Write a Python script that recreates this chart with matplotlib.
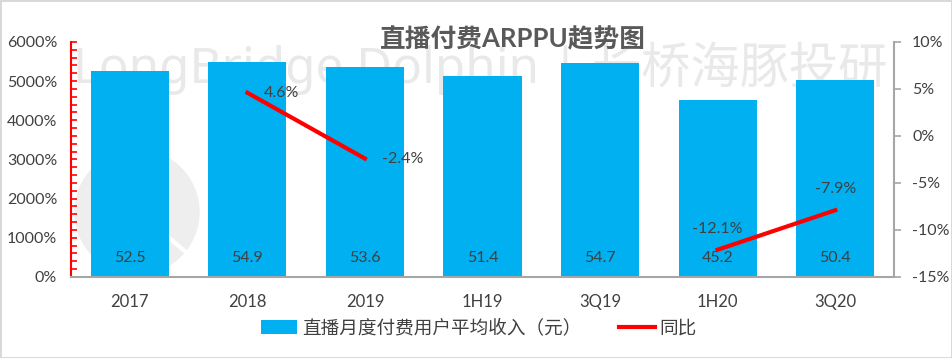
import matplotlib
matplotlib.use("Agg")
import matplotlib.pyplot as plt
import numpy as np
from matplotlib.ticker import MultipleLocator, FuncFormatter
from matplotlib.patches import Ellipse
from matplotlib.lines import Line2D

plt.rcParams['font.family'] = ['Lato', 'Noto Sans CJK SC', 'DejaVu Sans']

categories = ["2017", "2018", "2019", "1H19", "3Q19", "1H20", "3Q20"]
arppu = [52.5, 54.9, 53.6, 51.4, 54.7, 45.2, 50.4]
yoy = [np.nan, 4.6, -2.4, np.nan, np.nan, -12.1, -7.9]

title = "直播付费ARPPU趋势图"
bar_label = "直播月度付费用户平均收入（元）"
line_label = "同比"
watermark = "LongBridge Dolphin | 长桥海豚投研"

bar_color = "#00B0F0"
text_color = "#404040"

fig = plt.figure(figsize=(9.52, 3.58), dpi=100)
fig.patch.set_edgecolor("#D9D9D9")
fig.patch.set_linewidth(2)
ax = fig.add_axes([0.0746, 0.2263, 0.8645, 0.6564])
ax2 = ax.twinx()

x = np.arange(len(categories))
# watermark
fig.text(0.077, 0.81, watermark, fontsize=35.5, color="#E9E9E9",
         ha="left", va="center", zorder=0, family=['Noto Sans', 'Noto Sans CJK SC'])
circ = Ellipse((137 / 952, 1 - 212 / 358), 124 / 952, 124 / 358, transform=fig.transFigure,
               color="#EEEEEE", zorder=0)
fig.patches.append(circ)
fig.lines.append(Line2D([150 / 952, 205 / 952], [1 - 222 / 358, 1 - 268 / 358],
                        transform=fig.transFigure, color="white", linewidth=3, zorder=0.5))

ax.set_zorder(1)
ax.patch.set_visible(False)
ax2.set_zorder(2)

bars = ax.bar(x, [v * 100 for v in arppu], width=0.665, color=bar_color, zorder=2, label=bar_label)
for xi, v in zip(x, arppu):
    ax.text(xi, 480, f"{v:.1f}", ha="center", va="center", fontsize=11.5, color=text_color, zorder=3)

ax.set_xlim(-0.5, len(categories) - 0.5)
ax.set_ylim(0, 6000)
ax.yaxis.set_major_locator(MultipleLocator(1000))
ax.yaxis.set_minor_locator(MultipleLocator(200))
ax.yaxis.set_major_formatter(FuncFormatter(lambda v, p: f"{v:.0f}%"))
ax.set_xticks(x)
ax.set_xticklabels(categories)
ax.tick_params(axis="x", length=0, pad=12, labelsize=12, labelcolor=text_color)
ax.tick_params(axis="y", which="both", direction="in", length=4, width=1.2, color="red",
               labelsize=11.5, labelcolor=text_color, pad=10)
ax.spines["left"].set_color("red")
ax.spines["left"].set_linewidth(1.5)
ax.spines["top"].set_visible(False)
ax.spines["right"].set_visible(False)
ax.spines["bottom"].set_color("#A6A6A6")
ax.spines["bottom"].set_linewidth(1.5)

line, = ax2.plot(x, yoy, color="#FF0000", linewidth=3, label=line_label, zorder=4)
offsets = {1: (12, 0, "left", "center"), 2: (12, 0, "left", "center"),
           5: (0, 15, "center", "center"), 6: (0, 15, "center", "center")}
for i, v in enumerate(yoy):
    if not np.isnan(v):
        dx, dy, ha, va = offsets[i]
        ax2.annotate(f"{v:.1f}%", (x[i], v), xytext=(dx, dy), textcoords="offset points",
                     ha=ha, va=va, fontsize=11.5, color=text_color)
ax2.set_ylim(-15, 10)
ax2.yaxis.set_major_locator(MultipleLocator(5))
ax2.yaxis.set_major_formatter(FuncFormatter(lambda v, p: f"{v:.0f}%"))
ax2.tick_params(axis="y", direction="out", length=5, width=1.2, color="#A6A6A6",
                labelsize=11.5, labelcolor=text_color, pad=8)
for s in ["left", "top", "bottom"]:
    ax2.spines[s].set_visible(False)
ax2.spines["right"].set_color("#A6A6A6")
ax2.spines["right"].set_linewidth(1.5)

fig.text(0.539, 0.891, title, ha="center", va="center", fontsize=18.5, fontweight="bold",
         color="#595959", zorder=5)

fig.legend([bars, line], [bar_label, line_label], loc="center", bbox_to_anchor=(0.503, 0.085),
           ncol=2, frameon=False, fontsize=13.4, handlelength=1.95, columnspacing=2.0,
           handletextpad=0.27, labelcolor=text_color)

fig.savefig("out.png", dpi=100)
